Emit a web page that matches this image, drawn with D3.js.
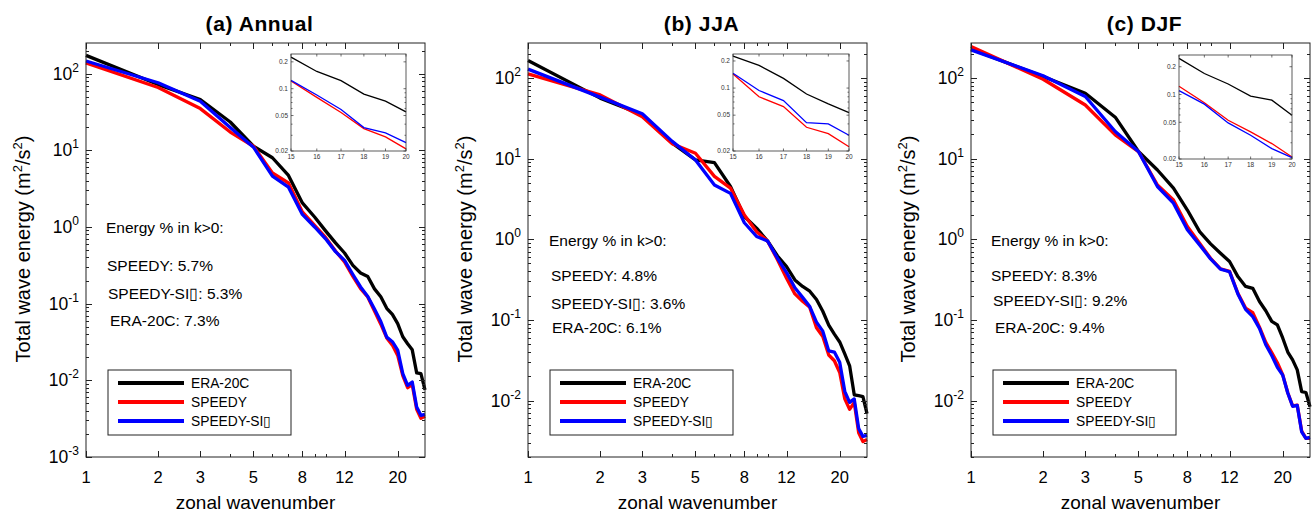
<!DOCTYPE html>
<html>
<head>
<meta charset="utf-8">
<script src="https://cdn.jsdelivr.net/npm/d3@7"></script>
<style>
  body { margin: 0; background: #fff; }
  svg { font-family: "Liberation Sans", Arial, Helvetica, sans-serif; }
</style>
</head>
<body>
<div id="chart"></div>
<script>
// zonal wavenumbers k = 1..26
const wavenumbers = d3.range(1, 27);

// (a) Annual
const eraAnnual    = [173, 72, 46, 23.4, 11.3, 8.0, 4.7, 2.06, 1.35, 0.89, 0.62, 0.458, 0.316, 0.251, 0.226, 0.156, 0.123, 0.087, 0.0726, 0.055, 0.037, 0.030, 0.025, 0.0125, 0.0122, 0.0075];
const speedyAnnual = [138, 66, 35, 17.3, 11.3, 5.06, 3.75, 1.57, 1.05, 0.73, 0.486, 0.35, 0.227, 0.157, 0.122, 0.080, 0.054, 0.0357, 0.0288, 0.0211, 0.0115, 0.0080, 0.0088, 0.0042, 0.0032, 0.0034];
const siAnnual     = [146, 76, 43.5, 19.8, 11.0, 4.6, 3.3, 1.46, 1.0, 0.70, 0.477, 0.367, 0.24, 0.165, 0.124, 0.085, 0.0585, 0.0366, 0.0319, 0.0248, 0.0122, 0.0086, 0.0095, 0.0045, 0.0035, 0.0036];

// (b) JJA
const eraJJA    = [164, 56, 34.8, 15.5, 9.6, 8.9, 4.5, 1.91, 1.37, 0.95, 0.62, 0.458, 0.313, 0.26, 0.227, 0.179, 0.128, 0.086, 0.0666, 0.0533, 0.038, 0.027, 0.0118, 0.0115, 0.0112, 0.0069];
const speedyJJA = [112, 61.5, 33, 15.2, 11.6, 6.0, 4.3, 2.0, 1.24, 0.95, 0.555, 0.329, 0.21, 0.17, 0.143, 0.080, 0.0623, 0.0367, 0.0312, 0.0223, 0.0105, 0.0078, 0.0095, 0.0040, 0.0031, 0.0033];
const siJJA     = [128, 57.6, 35.8, 16.3, 9.6, 4.7, 3.7, 1.6, 1.08, 0.95, 0.58, 0.386, 0.25, 0.19, 0.146, 0.094, 0.0725, 0.0413, 0.040, 0.0299, 0.013, 0.0095, 0.0105, 0.0045, 0.0036, 0.0037];

// (c) DJF
const eraDJF    = [227, 104, 64.5, 32.5, 12.2, 7.2, 4.3, 2.3, 1.24, 0.875, 0.67, 0.53, 0.344, 0.26, 0.246, 0.169, 0.130, 0.096, 0.0869, 0.0597, 0.040, 0.032, 0.024, 0.0129, 0.0126, 0.0084];
const speedyDJF = [244, 96, 46, 19.6, 12.2, 4.7, 3.07, 1.44, 0.89, 0.58, 0.43, 0.40, 0.214, 0.14, 0.123, 0.0813, 0.0526, 0.0394, 0.0294, 0.021, 0.0125, 0.0086, 0.0088, 0.0042, 0.0034, 0.0034];
const siDJF     = [222, 106, 58.7, 21.6, 12.2, 4.5, 2.8, 1.31, 0.85, 0.57, 0.425, 0.395, 0.21, 0.135, 0.11, 0.0786, 0.0492, 0.0362, 0.0259, 0.0207, 0.0124, 0.0085, 0.0087, 0.0041, 0.0034, 0.0035];

// energy share text
const statsAnnual = ["5.7%", "5.3%", "7.3%"];
const statsJJA    = ["4.8%", "3.6%", "6.1%"];
const statsDJF    = ["8.3%", "9.2%", "9.4%"];

const seriesNames  = ["ERA-20C", "SPEEDY", "SPEEDY-SI\u25AF"];
const seriesColors = ["#000000", "#ff0000", "#0000ff"];
const xTickValues  = [1, 2, 3, 5, 8, 12, 20];
const insetKs      = [15, 16, 17, 18, 19, 20];
const insetYTicks  = [0.02, 0.05, 0.1, 0.2];

const panels = [
  { title: "(a) Annual", left: 86,  yDomain: [1e-3, 251], expMin: -3, insetTop: 0.245,
    series: [eraAnnual, speedyAnnual, siAnnual], stats: statsAnnual,
    annX: [20, 21, 22, 24], annY: [233, 271, 299, 326],
    inset: { dx: 205, y: 54, w: 115, h: 97 } },
  { title: "(b) JJA",    left: 528, yDomain: [2e-3, 270], expMin: -2, insetTop: 0.239,
    series: [eraJJA, speedyJJA, siJJA], stats: statsJJA,
    annX: [21, 23, 23, 24], annY: [246, 281, 309, 333],
    inset: { dx: 205, y: 54, w: 116, h: 97 } },
  { title: "(c) DJF",    left: 971, yDomain: [2e-3, 270], expMin: -2, insetTop: 0.268,
    series: [eraDJF, speedyDJF, siDJF], stats: statsDJF,
    annX: [20, 20, 22, 24], annY: [246, 281, 306, 333],
    inset: { dx: 208, y: 55, w: 113, h: 104 } }
];

const W = 1314, H = 512;
const plotTop = 43, plotBottom = 457, plotW = 339;

const svg = d3.select("#chart").append("svg")
    .attr("width", W).attr("height", H);

panels.forEach(p => drawPanel(p));

function drawPanel(p) {
    const left = p.left, right = left + plotW;
    const x = d3.scaleLog().domain([1, 26]).range([left, right]);
    const y = d3.scaleLog().domain(p.yDomain).range([plotBottom, plotTop]);
    const g = svg.append("g");

    // title
    g.append("text")
        .attr("x", (left + right) / 2 + 4).attr("y", 31)
        .attr("text-anchor", "middle")
        .attr("font-size", 21).attr("font-weight", "bold")
        .attr("letter-spacing", 0.6)
        .text(p.title);

    // curves
    const line = d3.line()
        .x((d, i) => x(wavenumbers[i]))
        .y(d => y(d));
    p.series.forEach((s, i) => {
        g.append("path")
            .attr("d", line(s))
            .attr("fill", "none")
            .attr("stroke", seriesColors[i])
            .attr("stroke-width", 3.3)
            .attr("stroke-linejoin", "round");
    });

    // frame
    g.append("rect")
        .attr("x", left).attr("y", plotTop)
        .attr("width", plotW).attr("height", plotBottom - plotTop)
        .attr("fill", "none").attr("stroke", "#222").attr("stroke-width", 1);

    // y ticks (inward, mirrored)
    const [y0, y1] = p.yDomain;
    const ticksY = [];
    for (let e = Math.floor(Math.log10(y0)); e <= Math.ceil(Math.log10(y1)); e++) {
        for (let m = 1; m <= 9; m++) {
            const v = m * Math.pow(10, e);
            if (v >= y0 && v <= y1) ticksY.push({ v, major: m === 1 });
        }
    }
    ticksY.forEach(t => {
        const len = t.major ? 6 : 3;
        const yy = Math.round(y(t.v)) + 0.5;
        g.append("line").attr("x1", left).attr("x2", left + len)
            .attr("y1", yy).attr("y2", yy).attr("stroke", "#222");
        g.append("line").attr("x1", right).attr("x2", right - len)
            .attr("y1", yy).attr("y2", yy).attr("stroke", "#222");
    });
    d3.range(p.expMin, 3).forEach(e => {
        const t = g.append("text")
            .attr("x", left - 7).attr("y", y(Math.pow(10, e)) + 6)
            .attr("text-anchor", "end").attr("font-size", 17.5);
        t.append("tspan").text("10");
        t.append("tspan").attr("dy", -8).attr("font-size", 12).text(e);
    });

    // x ticks
    const minorX = [2, 3, 4, 5, 6, 7, 8, 9, 10, 20];
    minorX.forEach(v => {
        const xx = Math.round(x(v)) + 0.5;
        g.append("line").attr("x1", xx).attr("x2", xx)
            .attr("y1", plotBottom).attr("y2", plotBottom - 3).attr("stroke", "#222");
        g.append("line").attr("x1", xx).attr("x2", xx)
            .attr("y1", plotTop).attr("y2", plotTop + 3).attr("stroke", "#222");
    });
    xTickValues.forEach(v => {
        const xx = Math.round(x(v)) + 0.5;
        g.append("line").attr("x1", xx).attr("x2", xx)
            .attr("y1", plotBottom).attr("y2", plotBottom - 6).attr("stroke", "#222");
        g.append("line").attr("x1", xx).attr("x2", xx)
            .attr("y1", plotTop).attr("y2", plotTop + 6).attr("stroke", "#222");
        g.append("text")
            .attr("x", x(v)).attr("y", 483)
            .attr("text-anchor", "middle").attr("font-size", 16.5)
            .text(v);
    });

    // axis titles
    g.append("text")
        .attr("x", (left + right) / 2).attr("y", 509)
        .attr("text-anchor", "middle").attr("font-size", 19)
        .text("zonal wavenumber");

    const yt = g.append("text")
        .attr("transform", `translate(${left - 56},249) rotate(-90)`)
        .attr("text-anchor", "middle").attr("font-size", 20);
    yt.append("tspan").text("Total wave energy (m");
    yt.append("tspan").attr("dy", -8).attr("font-size", 13).text("2");
    yt.append("tspan").attr("dy", 8).text("/s");
    yt.append("tspan").attr("dy", -8).attr("font-size", 13).text("2");
    yt.append("tspan").attr("dy", 8).text(")");

    // annotation
    const annText = [
        "Energy % in k>0:",
        `SPEEDY: ${p.stats[0]}`,
        `SPEEDY-SI\u25AF: ${p.stats[1]}`,
        `ERA-20C: ${p.stats[2]}`
    ];
    annText.forEach((txt, i) => {
        g.append("text")
            .attr("x", left + p.annX[i]).attr("y", p.annY[i])
            .attr("font-size", 15.5)
            .text(txt);
    });

    // legend
    const lg = g.append("g").attr("transform", `translate(${left + 22},370)`);
    lg.append("rect").attr("width", 183).attr("height", 65)
        .attr("fill", "#fff").attr("stroke", "#222").attr("stroke-width", 1);
    seriesNames.forEach((n, i) => {
        const ly = 13 + i * 19;
        lg.append("line").attr("x1", 10).attr("x2", 76)
            .attr("y1", ly).attr("y2", ly)
            .attr("stroke", seriesColors[i]).attr("stroke-width", 4);
        lg.append("text").attr("x", 83).attr("y", ly + 5)
            .attr("font-size", 13.8).text(n);
    });

    drawInset(g, p);
}

function drawInset(g, p) {
    const il = p.left + p.inset.dx, it = p.inset.y;
    const iw = p.inset.w, ih = p.inset.h;
    const xi = d3.scaleLog().domain([15, 20]).range([il, il + iw]);
    const yi = d3.scaleLog().domain([0.02, p.insetTop]).range([it + ih, it]);

    g.append("rect").attr("x", il).attr("y", it)
        .attr("width", iw).attr("height", ih)
        .attr("fill", "#fff");

    const line = d3.line()
        .x(d => xi(d.k))
        .y(d => yi(d.v));
    p.series.forEach((s, i) => {
        const pts = insetKs.map(k => ({ k, v: s[wavenumbers.indexOf(k)] }));
        g.append("path").attr("d", line(pts))
            .attr("fill", "none").attr("stroke", seriesColors[i])
            .attr("stroke-width", 1.3);
    });

    g.append("rect").attr("x", il).attr("y", it)
        .attr("width", iw).attr("height", ih)
        .attr("fill", "none").attr("stroke", "#333").attr("stroke-width", 0.8);

    insetKs.forEach(k => {
        const xx = xi(k);
        g.append("line").attr("x1", xx).attr("x2", xx)
            .attr("y1", it + ih).attr("y2", it + ih - 2.5).attr("stroke", "#333").attr("stroke-width", 0.7);
        g.append("line").attr("x1", xx).attr("x2", xx)
            .attr("y1", it).attr("y2", it + 2.5).attr("stroke", "#333").attr("stroke-width", 0.7);
        g.append("text").attr("x", xx).attr("y", it + ih + 8)
            .attr("text-anchor", "middle").attr("font-size", 6.5).attr("fill", "#333")
            .text(k);
    });
    const minorYi = [0.02, 0.03, 0.04, 0.05, 0.06, 0.07, 0.08, 0.09, 0.1, 0.2].filter(v => v <= p.insetTop);
    minorYi.forEach(v => {
        const len = insetYTicks.includes(v) ? 2.5 : 1.5;
        const yy = yi(v);
        g.append("line").attr("x1", il).attr("x2", il + len)
            .attr("y1", yy).attr("y2", yy).attr("stroke", "#333").attr("stroke-width", 0.7);
        g.append("line").attr("x1", il + iw).attr("x2", il + iw - len)
            .attr("y1", yy).attr("y2", yy).attr("stroke", "#333").attr("stroke-width", 0.7);
    });
    insetYTicks.forEach(v => {
        g.append("text").attr("x", il - 3).attr("y", yi(v) + 2.3)
            .attr("text-anchor", "end").attr("font-size", 6.5).attr("fill", "#333")
            .text(v);
    });
}
</script>
</body>
</html>
